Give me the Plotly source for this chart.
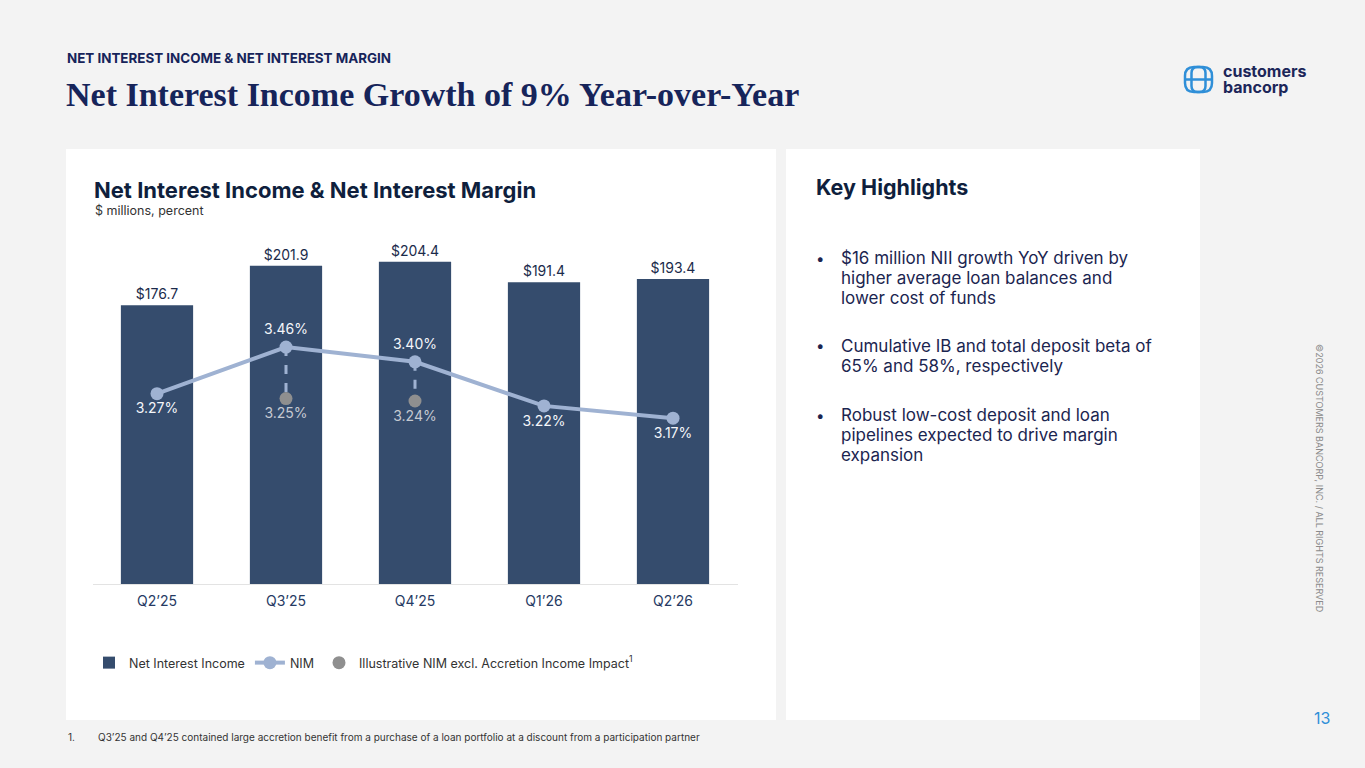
import plotly.graph_objs as go

# canvas size in px, used to place page furniture in paper coordinates
W, H = 1365, 768


def px(x):
    return x / W


def py(y):
    return 1 - y / H


# Data
quarters = ["Q2’25", "Q3’25", "Q4’25", "Q1’26", "Q2’26"]
nii = [176.7, 201.9, 204.4, 191.4, 193.4]
nim = [3.27, 3.46, 3.40, 3.22, 3.17]
nim_excl = [None, 3.25, 3.24, None, None]
nim_label_pos = ["bottom center", "top center", "top center", "bottom center", "bottom center"]

highlights = [
    ["$16 million NII growth YoY driven by", "higher average loan balances and", "lower cost of funds"],
    ["Cumulative IB and total deposit beta of", "65% and 58%, respectively"],
    ["Robust low-cost deposit and loan", "pipelines expected to drive margin", "expansion"],
]

NAVY = "#16245a"
TEXT = "#1b2550"
BAR = "#354c6d"
NIM_C = "#9fb2d2"
GREY = "#8f8f8f"
LOGO = "#2f8fd8"
FONT = "Inter, 'Noto Sans', sans-serif"
SERIF = "'Liberation Serif', serif"


def rounded_path(x0, y0, x1, y1, r):
    """SVG path (paper coords) for a rounded rectangle given in pixels."""
    pts = [
        ("M", [(x0 + r, y0)]), ("L", [(x1 - r, y0)]), ("Q", [(x1, y0), (x1, y0 + r)]),
        ("L", [(x1, y1 - r)]), ("Q", [(x1, y1), (x1 - r, y1)]),
        ("L", [(x0 + r, y1)]), ("Q", [(x0, y1), (x0, y1 - r)]),
        ("L", [(x0, y0 + r)]), ("Q", [(x0, y0), (x0 + r, y0)]),
    ]
    out = ""
    for cmd, coords in pts:
        out += cmd + " ".join(f"{px(a):.5f},{py(b):.5f}" for a, b in coords) + " "
    return out + "Z"


def build_figure():
    fig = go.Figure()

    fig.add_trace(go.Bar(
        x=quarters, y=nii, name="Net Interest Income",
        marker=dict(color=BAR, line=dict(width=0)), width=0.56,
        text=[f"${v:.1f}" for v in nii], textposition="outside",
        textfont=dict(size=14, color="#1b2b4b", family=FONT),
        cliponaxis=False, hoverinfo="skip",
    ))

    # dashed connectors between reported NIM and the illustrative one
    ex_q = [q for q, v in zip(quarters, nim_excl) if v is not None]
    ex_v = [v for v in nim_excl if v is not None]
    for q, a, b in zip(quarters, nim, nim_excl):
        if b is None:
            continue
        fig.add_trace(go.Scatter(
            x=[q, q], y=[a, b], yaxis="y2", mode="lines",
            line=dict(color=NIM_C, width=3, dash="dash"),
            showlegend=False, hoverinfo="skip",
        ))

    fig.add_trace(go.Scatter(
        x=quarters, y=nim, yaxis="y2", name="NIM", mode="lines+markers+text",
        line=dict(color=NIM_C, width=4), marker=dict(color=NIM_C, size=13),
        text=[f"{v:.2f}%" for v in nim], textposition=nim_label_pos,
        textfont=dict(size=14, color="#f4f6fa", family=FONT),
        cliponaxis=False,
    ))

    fig.add_trace(go.Scatter(
        x=ex_q, y=ex_v, yaxis="y2", mode="markers+text",
        name="Illustrative NIM excl. Accretion Income Impact<sup>1</sup>",
        marker=dict(color=GREY, size=13),
        text=[f"{v:.2f}%" for v in ex_v], textposition="bottom center",
        textfont=dict(size=14, color="#c5c9d1", family=FONT),
        cliponaxis=False,
    ))

    shapes = [
        # cards
        dict(type="rect", xref="paper", yref="paper", x0=px(66), x1=px(776), y0=py(720), y1=py(149),
             fillcolor="#ffffff", line=dict(width=0), layer="below"),
        dict(type="rect", xref="paper", yref="paper", x0=px(786), x1=px(1200), y0=py(720), y1=py(149),
             fillcolor="#ffffff", line=dict(width=0), layer="below"),
        # logo mark
        dict(type="path", xref="paper", yref="paper", path=rounded_path(1185, 67, 1212, 92, 9),
             line=dict(color=LOGO, width=2.5)),
        dict(type="path", xref="paper", yref="paper", path=rounded_path(1191.5, 67, 1205.5, 92, 6),
             line=dict(color=LOGO, width=2.5)),
        dict(type="line", xref="paper", yref="paper", x0=px(1185), x1=px(1212), y0=py(79.5), y1=py(79.5),
             line=dict(color=LOGO, width=2.5)),
    ]

    annotations = [
        dict(text="<b>NET INTEREST INCOME & NET INTEREST MARGIN</b>", x=px(65), y=py(58),
             font=dict(size=13.4, color=NAVY, family=FONT)),
        dict(text="<b>Net Interest Income Growth of 9% Year-over-Year</b>", x=px(64), y=py(95),
             font=dict(size=34, color=NAVY, family=SERIF)),
        dict(text="<b>customers</b>", x=px(1221), y=py(70.5), font=dict(size=16, color="#1c2659", family=FONT)),
        dict(text="<b>bancorp</b>", x=px(1221), y=py(87.5), font=dict(size=16, color="#1c2659", family=FONT)),
        dict(text="<b>Net Interest Income & Net Interest Margin</b>", x=px(92), y=py(190),
             font=dict(size=22, color="#0f1f3d", family=FONT)),
        dict(text="$ millions, percent", x=px(93), y=py(210),
             font=dict(size=12.5, color="#333333", family=FONT)),
        dict(text="<b>Key Highlights</b>", x=px(814), y=py(187),
             font=dict(size=21.5, color="#0f1f3d", family=FONT)),
        dict(text="1.", x=px(66), y=py(737), font=dict(size=10, color="#333333", family=FONT)),
        dict(text="Q3’25 and Q4’25 contained large accretion benefit from a purchase of a loan portfolio "
                  "at a discount from a participation partner",
             x=px(96), y=py(737), font=dict(size=10, color="#333333", family=FONT)),
        dict(text="13", x=px(1312), y=py(718), font=dict(size=16, color=LOGO, family=FONT)),
        dict(text="©2026 CUSTOMERS BANCORP, INC. / ALL RIGHTS RESERVED", x=px(1320), y=py(478),
             xanchor="center", textangle=90, font=dict(size=9, color="#8a8a8a", family=FONT)),
    ]

    bullet_tops = [258, 346, 415]
    for top, lines in zip(bullet_tops, highlights):
        annotations.append(dict(text="•", x=px(814), y=py(top),
                                font=dict(size=15, color=TEXT, family=FONT)))
        for i, line in enumerate(lines):
            annotations.append(dict(text=line, x=px(839), y=py(top + 20 * i),
                                    font=dict(size=17, color=TEXT, family=FONT)))

    for a in annotations:
        a.setdefault("xref", "paper")
        a.setdefault("yref", "paper")
        a.setdefault("xanchor", "left")
        a.setdefault("yanchor", "middle")
        a.setdefault("showarrow", False)

    fig.update_layout(
        width=W, height=H, margin=dict(l=0, r=0, t=0, b=0),
        paper_bgcolor="#f3f3f3", plot_bgcolor="rgba(0,0,0,0)",
        font=dict(family=FONT, color="#333333"),
        showlegend=True,
        legend=dict(orientation="h", x=px(89), y=py(663), xanchor="left", yanchor="middle",
                    font=dict(size=12.5, color="#333333", family=FONT), bgcolor="rgba(0,0,0,0)",
                    traceorder="normal"),
        xaxis=dict(domain=[px(92.5), px(737.5)], showgrid=False, zeroline=False,
                   showline=True, linecolor="#e3e3e3", linewidth=1, ticks="",
                   tickfont=dict(size=14, color="#263a63", family=FONT), ticklabelstandoff=4,
                   fixedrange=True),
        yaxis=dict(domain=[py(584), py(230)], range=[0, 224.5], visible=False, fixedrange=True),
        yaxis2=dict(overlaying="y", range=[2.493, 3.938], visible=False, fixedrange=True),
        shapes=shapes, annotations=annotations, bargap=0.44,
    )
    return fig


fig = build_figure()
fig.write_html("out.html", config={"displayModeBar": False},
               post_script="document.body.style.margin='0';document.body.style.overflow='hidden';")
